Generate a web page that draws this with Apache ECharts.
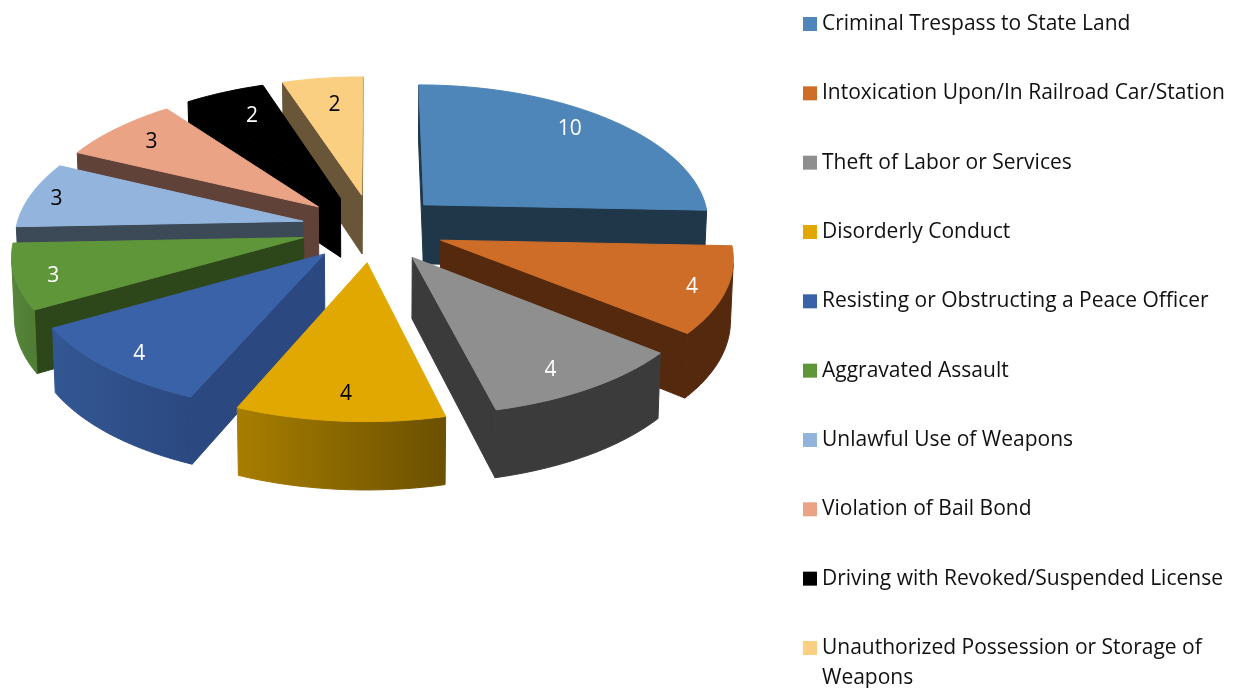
<!DOCTYPE html>
<html>
<head>
<meta charset="utf-8">
<style>
  html,body{margin:0;padding:0;background:#fff;}
  #chart{width:1235px;height:688px;}
</style>
<script src="https://cdn.jsdelivr.net/npm/echarts@6/dist/echarts.min.js"></script>
</head>
<body>
<div id="chart"></div>
<script>
// ---- data ----
const names = [
  'Criminal Trespass to State Land',
  'Intoxication Upon/In Railroad Car/Station',
  'Theft of Labor or Services',
  'Disorderly Conduct',
  'Resisting or Obstructing a Peace Officer',
  'Aggravated Assault',
  'Unlawful Use of Weapons',
  'Violation of Bail Bond',
  'Driving with Revoked/Suspended License',
  'Unauthorized Possession or Storage of Weapons'
];
const values = [10, 4, 4, 4, 4, 3, 3, 3, 2, 2];

// ---- styles ----
const topColors  = ['#4e86b9','#ce6d28','#8f8f8f','#e0a800','#3a62a8','#5f963a','#93b5dd','#eaa385','#000000','#fbcf81'];
const sideColors = ['#203749','#55290d','#3b3b3b','#6b5000','#2b4880','#2e471a','#3c4a58','#604238','#000000','#695537'];
const wallLeft   = ['#203749','#55290d','#3b3b3b','#a87e00','#335793','#56853a','#3c4a58','#604238','#000000','#695537'];
const wallRight  = ['#203749','#55290d','#3b3b3b','#6b5000','#2b4880','#4f7c34','#3c4a58','#604238','#000000','#695537'];
const labelColors = ['#fff','#fff','#fff','#000','#fff','#fff','#000','#000','#fff','#000'];
const labelRadius = [0.78,0.93,0.8,0.82,0.87,0.88,0.9,0.8,0.8,0.8];
// small nudges, Excel does not put the labels exactly on the mid angle
const labelNudge = [[-1,-8],[-13,0],[-1,10],[1,4],[1,2],[3,4],[-1,2],[-4,-1],[6,4],[5,5]];
// back to front, the gold slice sits on top of both neighbours
const drawOrder = [0,1,2,9,8,7,6,5,4,3];

// ---- projection of the tilted pie ----
const FONT = '"Open Sans", sans-serif';
const P = { cx:373, cy:228, a:287, b:136, persp:0.098, perspX:0.11, explode:0.25, depth:60, shrink:0.992 };
const total = values.reduce((s,v)=>s+v,0);
const rad = d => d*Math.PI/180;

function project(X, Y){
  const k = 1 - P.persp*Y;
  return { x:P.cx + P.a*X/(1 - P.perspX*Y), y:P.cy + P.b*Y/k, k };
}
// pt on the top face: r from slice apex at angle deg, clockwise from 12 o'clock
function topPt(mid, deg, r){
  const X = P.explode*Math.sin(rad(mid)) + r*Math.sin(rad(deg));
  const Y = -P.explode*Math.cos(rad(mid)) - r*Math.cos(rad(deg));
  const p = project(X,Y);
  return [p.x, p.y, p.k];
}
function down(p){
  return [P.cx + (p[0]-P.cx)*P.shrink, p[1] + P.depth/p[2]];
}
function area(q){
  let s = 0;
  q.forEach((p,i)=>{ const n = q[(i+1)%q.length]; s += p[0]*n[1]-n[0]*p[1]; });
  return s/2;
}
function poly(points, fill, stroke){
  return { type:'polygon', shape:{points:points.map(p=>[p[0],p[1]])},
    style:{fill, stroke:stroke||fill, lineWidth:1} };
}

function sliceRenderer(i){
  return function(){
    const before = values.slice(0,i).reduce((s,v)=>s+v,0);
    const a0 = before/total*360, a1 = (before+values[i])/total*360, mid = (a0+a1)/2;
    const apex = topPt(mid,0,0);
    const arc = [];
    const steps = Math.ceil(a1-a0);
    for(let s=0;s<=steps;s++) arc.push(topPt(mid, a0+(a1-a0)*s/steps, 1));
    const children = [];

    // radial side walls, only when they face the viewer
    [[apex,arc[0]],[arc[arc.length-1],apex]].forEach(e=>{
      const q = [e[0],e[1],down(e[1]),down(e[0])];
      if(area(q)<0) children.push(poly(q, sideColors[i]));
    });
    // outer curved wall
    const vis = [];
    for(let s=0;s<steps;s++){
      const q = [arc[s],arc[s+1],down(arc[s+1]),down(arc[s])];
      if(area(q)<0) vis.push(s);
    }
    if(vis.length){
      const upper = [], lower = [];
      for(let s=vis[0];s<=vis[vis.length-1]+1;s++){ upper.push(arc[s]); lower.unshift(down(arc[s])); }
      const grad = new echarts.graphic.LinearGradient(0,0,1,0,[
        {offset:0,color:wallLeft[i]},{offset:1,color:wallRight[i]}]);
      children.push(poly(upper.concat(lower), grad, grad));
    }
    // top face
    children.push(poly([apex].concat(arc), topColors[i]));
    // value label
    const lp = topPt(mid, mid, labelRadius[i]);
    children.push({ type:'text', z2:10, style:{ x:lp[0]+labelNudge[i][0], y:lp[1]+labelNudge[i][1], text:String(values[i]),
      fill:labelColors[i], font:'21px '+FONT, align:'center', verticalAlign:'middle' } });
    return { type:'group', children };
  };
}

const legendBase = {
  orient:'vertical', left:803, padding:0, icon:'rect', itemWidth:14, itemHeight:14, selectedMode:false,
  textStyle:{ color:'#111', fontFamily:FONT, fontSize:21, lineHeight:30 }
};

const chart = echarts.init(document.getElementById('chart'));
chart.setOption({
  animation:false,
  backgroundColor:'#fff',
  legend:[
    { ...legendBase, top:9, itemGap:39.33, data:names.slice(0,9) },
    // last name wraps, the empty first line keeps the swatch level with its first line
    { ...legendBase, top:603, data:names.slice(9),
      formatter:()=>'\nUnauthorized Possession or Storage of\nWeapons' }
  ],
  series:drawOrder.map((i,o)=>({
    type:'custom', name:names[i], coordinateSystem:'none', z:2+o,
    itemStyle:{color:topColors[i]}, data:[values[i]], renderItem:sliceRenderer(i), silent:true
  }))
});
</script>
</body>
</html>
